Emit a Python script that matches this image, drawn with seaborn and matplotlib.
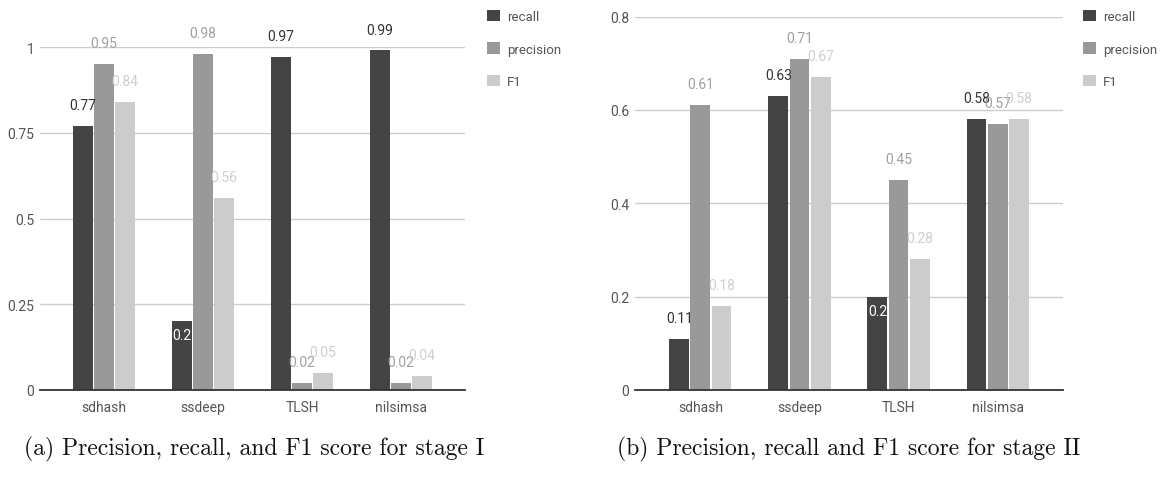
import matplotlib
matplotlib.use("Agg")
import matplotlib.pyplot as plt
import seaborn as sns
import pandas as pd
import numpy as np

# ---- data ----
tools = ["sdhash", "ssdeep", "TLSH", "nilsimsa"]
metrics = ["recall", "precision", "F1"]

stage1_recall = [0.77, 0.20, 0.97, 0.99]
stage1_precision = [0.95, 0.98, 0.02, 0.02]
stage1_f1 = [0.84, 0.56, 0.05, 0.04]

stage2_recall = [0.11, 0.63, 0.20, 0.58]
stage2_precision = [0.61, 0.71, 0.45, 0.57]
stage2_f1 = [0.18, 0.67, 0.28, 0.58]

stage1_yticks = [0, 0.25, 0.5, 0.75, 1]
stage1_yticklabels = ["0", "0.25", "0.5", "0.75", "1"]
stage2_yticks = [0, 0.2, 0.4, 0.6, 0.8]
stage2_yticklabels = ["0", "0.2", "0.4", "0.6", "0.8"]

caption_a = "(a) Precision, recall, and F1 score for stage I"
caption_b = "(b) Precision, recall and F1 score for stage II"

# ---- style ----
sns.set_theme(style="white")
plt.rcParams["font.family"] = ["Roboto", "DejaVu Sans"]

bar_colors = ["#444444", "#999999", "#cccccc"]
label_colors = ["#333333", "#a0a0a0", "#cfcfcf"]
text_gray = "#555555"

W, H = 1160, 481
fig = plt.figure(figsize=(W / 100, H / 100), dpi=100)


def make_df(rec, prec, f1):
    rows = []
    for m, vals in zip(metrics, [rec, prec, f1]):
        for t, v in zip(tools, vals):
            rows.append({"tool": t, "metric": m, "value": v})
    return pd.DataFrame(rows)


def px_rect(x0, x1, y_top, y_bot):
    return [x0 / W, 1 - y_bot / H, (x1 - x0) / W, (y_bot - y_top) / H]


def draw(ax, df, yticks, yticklabels, ymax, xlim, legend_xy):
    sns.barplot(data=df, x="tool", y="value", hue="metric", order=tools,
                hue_order=metrics, palette=bar_colors, width=0.64, gap=0.06,
                saturation=1, ax=ax, legend=True, edgecolor="none", linewidth=0)
    ax.set_ylim(0, ymax)
    ax.set_xlim(*xlim)
    ax.set_yticks(yticks)
    ax.set_yticklabels(yticklabels)
    ax.set_xlabel("")
    ax.set_ylabel("")
    for s in ["top", "right", "left"]:
        ax.spines[s].set_visible(False)
    ax.spines["bottom"].set_color("#333333")
    ax.spines["bottom"].set_linewidth(1.3)
    ax.spines["bottom"].set_zorder(5)
    for y in yticks[1:]:
        ax.axhline(y, color="#cccccc", lw=1.0, zorder=0)
    ax.tick_params(axis="both", length=0, colors=text_gray, labelsize=10)
    ax.tick_params(axis="x", pad=7)
    ax.tick_params(axis="y", pad=4)

    for ci, cont in enumerate(ax.containers):
        for bar in cont:
            h = bar.get_height()
            xc = bar.get_x() + bar.get_width() / 2
            txt = f"{h:.2f}".rstrip("0").rstrip(".")
            frac = h / ymax
            if ci == 0 and 0.15 <= frac <= 0.3:
                ax.annotate(txt, (xc, h), xytext=(0, -10), textcoords="offset points",
                            ha="center", va="center", color="white", fontsize=10)
            else:
                ax.annotate(txt, (xc, h), xytext=(0, 15), textcoords="offset points",
                            ha="center", va="center", color=label_colors[ci],
                            fontsize=10, annotation_clip=False)

    handles, labels = ax.get_legend_handles_labels()
    ax.legend_.remove()
    leg = fig.legend(handles, labels, loc="upper left", bbox_to_anchor=legend_xy,
                     bbox_transform=fig.transFigure, frameon=False,
                     handlelength=0.95, handleheight=0.95, handletextpad=0.55,
                     labelspacing=1.45, borderpad=0, borderaxespad=0, fontsize=9.5)
    for t in leg.get_texts():
        t.set_color(text_gray)


ax1 = fig.add_axes(px_rect(40, 465, 48, 391))
draw(ax1, make_df(stage1_recall, stage1_precision, stage1_f1),
     stage1_yticks, stage1_yticklabels, 1.0, (-0.646, 3.646), (487 / W, 1 - 11 / H))

ax2 = fig.add_axes(px_rect(635, 1063, 17.5, 391))
draw(ax2, make_df(stage2_recall, stage2_precision, stage2_f1),
     stage2_yticks, stage2_yticklabels, 0.8, (-0.66, 3.66), (1083 / W, 1 - 11 / H))

fig.text(254 / W, 1 - 449 / H, caption_a, ha="center", va="center",
         family="cmr10", fontsize=17, color="#111111")
fig.text(849 / W, 1 - 449 / H, caption_b, ha="center", va="center",
         family="cmr10", fontsize=17, color="#111111")

fig.savefig("out.png", dpi=100)
